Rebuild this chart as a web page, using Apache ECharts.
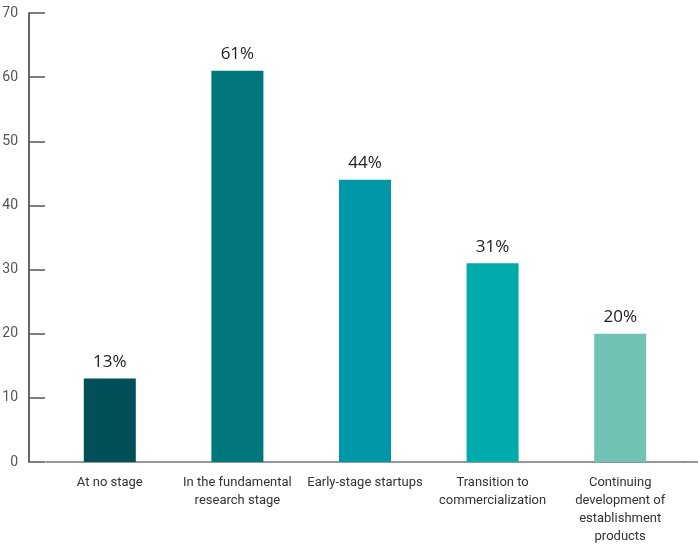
<!DOCTYPE html>
<head>
    <meta charset="utf-8">
    <title>ECharts</title>
</head>
<body style="margin:0">
    <div id="main" style="height:544px;width:698px"></div>
    <script src="https://cdn.jsdelivr.net/npm/echarts@6/dist/echarts.min.js"></script>
    <script type="text/javascript">
    var categories = ['At no stage', 'In the fundamental\nresearch stage', 'Early-stage startups',
        'Transition to\ncommercialization', 'Continuing\ndevelopment of\nestablishment\nproducts'];
    var values = [13, 61, 44, 31, 20];
    var colors = ['#004f59', '#00767d', '#0097a9', '#00abac', '#70c2b4'];

    var myChart = echarts.init(document.getElementById('main'));
    var barData = [];
    for (var i = 0; i < values.length; i++) {
        barData.push({ value: values[i], itemStyle: { color: colors[i] } });
    }
    var option = {
        animation: false,
        grid: { left: 46, right: 14, top: 13, bottom: 82, outerBoundsMode: 'none' },
        xAxis: {
            type: 'category',
            data: categories,
            axisLine: { lineStyle: { color: '#777', width: 1.5 } },
            axisTick: { show: false },
            axisLabel: {
                color: '#333',
                fontFamily: 'Roboto',
                fontSize: 13,
                lineHeight: 18,
                margin: 12,
                interval: 0
            }
        },
        yAxis: {
            type: 'value',
            min: 0,
            max: 70,
            interval: 10,
            offset: 17,
            axisLine: { show: true, lineStyle: { color: '#333', width: 1.5 } },
            axisTick: { show: true, inside: true, length: 16, lineStyle: { color: '#555', width: 1.5 } },
            splitLine: { show: false },
            axisLabel: {
                color: '#555',
                fontFamily: 'Roboto',
                fontSize: 14,
                margin: 11,
                padding: [8, 0, 0, 0]
            }
        },
        series: [{
            type: 'bar',
            data: barData,
            barWidth: 52,
            label: {
                show: true,
                position: 'top',
                distance: 8,
                formatter: '{c}%',
                color: '#222',
                fontFamily: 'Open Sans',
                fontSize: 17
            }
        }]
    };
    myChart.setOption(option);

    // extend the baseline to the right edge, as in the original
    var baseY = myChart.convertToPixel({ yAxisIndex: 0 }, 0);
    var endX = myChart.convertToPixel({ xAxisIndex: 0 }, categories.length - 1) + 64;
    myChart.setOption({
        graphic: [{
            type: 'line',
            shape: { x1: endX - 1, y1: baseY, x2: 698, y2: baseY },
            style: { stroke: '#777', lineWidth: 1.5 }
        }]
    });
    </script>
</body>
